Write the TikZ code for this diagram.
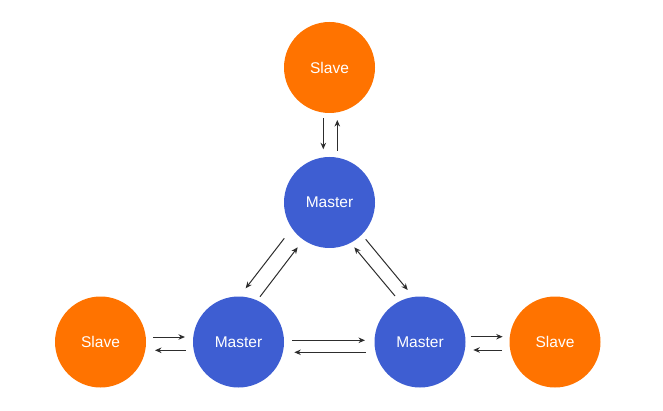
\documentclass[tikz,border=0pt]{standalone}
\usepackage{fontspec}
\setmainfont{Liberation Sans}
\usetikzlibrary{arrows.meta}
\definecolor{slaveorange}{RGB}{255,115,0}
\definecolor{masterblue}{RGB}{62,94,210}
\definecolor{arrowgray}{RGB}{45,45,45}
\tikzset{
  slavenode/.style={circle,fill=slaveorange,draw=none,minimum size=91pt,inner sep=0pt,text=white,font=\fontsize{15.5}{18}\selectfont},
  masternode/.style={circle,fill=masterblue,draw=none,minimum size=91pt,inner sep=0pt,text=white,font=\fontsize{15.5}{18}\selectfont},
  arr/.style={draw=arrowgray,line width=1pt,-{Stealth[length=6.5pt,width=5.5pt]}}
}
\begin{document}
\begin{tikzpicture}[x=1pt,y=-1pt]
\useasboundingbox (0,0) rectangle (663,411);
\node[slavenode] (ts) at (329.5,67.5) {Slave};
\node[masternode] (tm) at (329.5,202.5) {Master};
\node[masternode] (lm) at (238.5,342) {Master};
\node[masternode] (rm) at (420,342) {Master};
\node[slavenode] (ls) at (100.5,342) {Slave};
\node[slavenode] (rs) at (555,342) {Slave};
% top slave <-> top master
\draw[arr] ([shift={(-6.2,50.8)}]ts.center) -- ([shift={(-6.2,-53.2)}]tm.center);
\draw[arr] ([shift={(7.8,-51.8)}]tm.center) -- ([shift={(7.8,52.5)}]ts.center);
% top master <-> left master
\draw[arr] ([shift={(-45.2,35.8)}]tm.center) -- ([shift={(7.2,-53.7)}]lm.center);
\draw[arr] ([shift={(21.5,-45.3)}]lm.center) -- ([shift={(-31.8,44.8)}]tm.center);
% top master <-> right master
\draw[arr] ([shift={(36.2,36.8)}]tm.center) -- ([shift={(-12.3,-52)}]rm.center);
\draw[arr] ([shift={(-25,-46)}]rm.center) -- ([shift={(24.8,44.8)}]tm.center);
% left slave <-> left master
\draw[arr] ([shift={(52.8,-5)}]ls.center) -- ([shift={(-53.5,-5)}]lm.center);
\draw[arr] ([shift={(-52.8,8.3)}]lm.center) -- ([shift={(54.5,8.3)}]ls.center);
% left master <-> right master
\draw[arr] ([shift={(53.8,-1.7)}]lm.center) -- ([shift={(-55,-1.7)}]rm.center);
\draw[arr] ([shift={(-54.3,10.3)}]rm.center) -- ([shift={(55.8,10.3)}]lm.center);
% right master <-> right slave
\draw[arr] ([shift={(50.7,-5.3)}]rm.center) -- ([shift={(-52.3,-5.3)}]rs.center);
\draw[arr] ([shift={(-53,8)}]rs.center) -- ([shift={(53.3,8)}]rm.center);
\end{tikzpicture}
\end{document}
